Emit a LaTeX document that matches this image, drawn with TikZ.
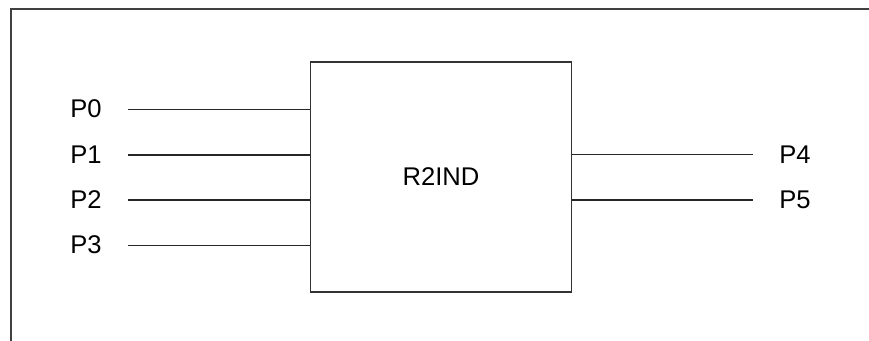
\documentclass[tikz,border=0pt]{standalone}
\usepackage{fontspec}
\setmainfont{Liberation Sans}
\begin{document}
\begin{tikzpicture}[x=0.5pt,y=-0.5pt,
  lbl/.style={inner sep=0pt,font=\fontsize{12.8}{15}\selectfont},
  wire/.style={line width=0.55pt,draw=black!85},
  blk/.style={draw=black!80,line width=0.6pt,rectangle,minimum width=130.75pt,minimum height=115pt,inner sep=0pt,font=\fontsize{12.8}{15}\selectfont}]
\useasboundingbox (0,0) rectangle (869,341);
\coordinate (ftl) at (11,9);
\coordinate (ftr) at (869,9);
\coordinate (fbl) at (11,341);
\draw[line width=0.7pt,draw=black!75] (ftr) -- (ftl) -- (fbl);
\node[blk] (box) at (441,177) {R2IND};
\node[lbl] (p0) at (86,109) {P0};
\node[lbl] (p1) at (86,155) {P1};
\node[lbl] (p2) at (86,200) {P2};
\node[lbl] (p3) at (86,245) {P3};
\node[lbl] (p4) at (795,154.5) {P4};
\node[lbl] (p5) at (795,200) {P5};
\coordinate (a0) at (128,109.3);
\coordinate (a1) at (128,155);
\coordinate (a2) at (128,200);
\coordinate (a3) at (128,245.3);
\coordinate (b4) at (753,154.3);
\coordinate (b5) at (753,200);
\foreach \c in {a0,a1,a2,a3}{\draw[wire] (\c) -- (\c -| box.west);}
\foreach \c in {b4,b5}{\draw[wire] (\c -| box.east) -- (\c);}
\end{tikzpicture}
\end{document}
